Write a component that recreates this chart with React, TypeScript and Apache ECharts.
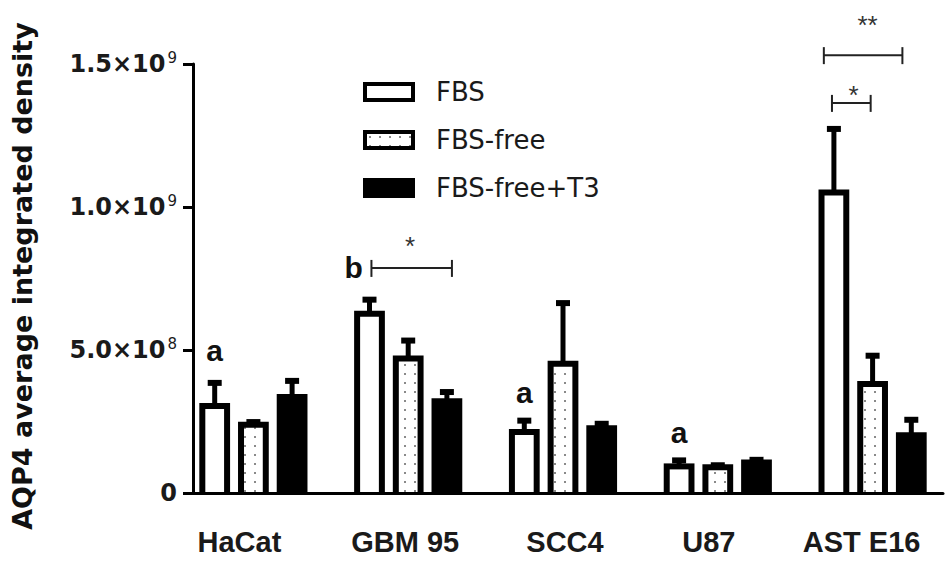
import React, { useEffect, useRef } from "react";
import * as echarts from "echarts";

const categories = ["HaCat", "GBM 95", "SCC4", "U87", "AST E16"];
const seriesNames = ["FBS", "FBS-free", "FBS-free+T3"];

const fbsMean = [3.04e8, 6.27e8, 2.13e8, 0.93e8, 10.51e8];
const fbsErr = [0.81e8, 0.49e8, 0.4e8, 0.21e8, 2.22e8];
const freeMean = [2.39e8, 4.7e8, 4.52e8, 0.9e8, 3.81e8];
const freeErr = [0.09e8, 0.63e8, 2.12e8, 0.07e8, 0.99e8];
const t3Mean = [3.36e8, 3.21e8, 2.26e8, 1.07e8, 2.02e8];
const t3Err = [0.56e8, 0.32e8, 0.16e8, 0.09e8, 0.54e8];

const yTickValues = [0, 5e8, 1e9, 1.5e9];
const yTickMantissa = ["0", "5.0", "1.0", "1.5"];
const yTickExponent = ["", "8", "9", "9"];

// letter annotations: category, slot (bar position in group), value, text
const letterCats = [0, 1, 2, 3];
const letterSlots = [-1, -1.41, -1, -1];
const letterValues = [5.0e8, 7.87e8, 3.53e8, 2.1e8];
const letterTexts = ["a", "b", "a", "a"];

// significance brackets
const bracketCats = [1, 4, 4];
const bracketFrom = [-0.95, -1.05, -1.26];
const bracketTo = [1.13, -0.05, 0.77];
const bracketValues = [7.87e8, 13.64e8, 15.31e8];
const starTexts = ["*", "*", "**"];
const starSlots = [0.05, -0.49, -0.13];
const starValues = [8.64e8, 13.92e8, 16.38e8];

const FONT = "'Liberation Sans', Arial, Helvetica, sans-serif";
const WIDE = "'DejaVu Sans', Verdana, sans-serif";
const SLOT = 0.25; // distance between bars in band fraction
const BARW = 31 / 156; // outer bar width in band fraction
const B = 6; // bar border
// horizontal nudges of the category labels (px, negative = left)
const labelPad = [
  [0, 28, 0, 0],
  [0, 6, 0, 0],
  [0, 0, 0, 4],
  [0, 18, 0, 0],
  [0, 22, 0, 0],
];

function makePattern() {
  const c = document.createElement("canvas");
  c.width = 10;
  c.height = 9;
  const ctx = c.getContext("2d")!;
  ctx.fillStyle = "#ffffff";
  ctx.fillRect(0, 0, 10, 9);
  ctx.fillStyle = "#8a8a8a";
  ctx.fillRect(4, 4, 2, 2);
  return { image: c, repeat: "repeat" } as any;
}

export default function App() {
  const ref = useRef<HTMLDivElement>(null);
  useEffect(() => {
    if (!ref.current) return;
    const chart = echarts.init(ref.current, undefined, { renderer: "svg" });
    const pattern = makePattern();

    const kinds = ["white", "dots", "solid"];
    const means = [fbsMean, freeMean, t3Mean];
    const errs = [fbsErr, freeErr, t3Err];
    const slots = [-1, 0, 1];

    const barSeries = seriesNames.map((name, s) => ({
      type: "custom",
      name,
      xAxisIndex: 1,
      yAxisIndex: 1,
      data: means[s].map((m, i) => [i, m, errs[s][i]]),
      encode: { x: 0, y: 1 },
      renderItem: (params: any, api: any) => {
        const cat = api.value(0);
        const v = api.value(1);
        const e = api.value(2);
        const top = api.coord([cat, v]);
        const base = api.coord([cat, 0]);
        const errTop = api.coord([cat, v + e]);
        const band = api.size([1, 0])[0];
        const cx = top[0] + slots[s] * band * SLOT;
        const w = band * BARW;
        const children: any[] = [];
        children.push({
          type: "rect",
          shape: { x: cx - w / 2, y: top[1] - B / 2, width: w, height: base[1] - top[1] + B / 2 },
          style: { fill: "#000" },
        });
        if (kinds[s] !== "solid") {
          children.push({
            type: "rect",
            shape: { x: cx - w / 2 + B, y: top[1] + B / 2, width: w - 2 * B, height: base[1] - top[1] - B / 2 - 1 },
            style: { fill: kinds[s] === "dots" ? pattern : "#fff" },
          });
        }
        children.push({
          type: "rect",
          shape: { x: cx - 2.5, y: errTop[1], width: 5, height: top[1] - errTop[1] },
          style: { fill: "#000" },
        });
        children.push({
          type: "rect",
          shape: { x: cx - 7, y: errTop[1] - 3, width: 14, height: 6 },
          style: { fill: "#000" },
        });
        return { type: "group", children };
      },
    }));

    const letterSeries = {
      type: "custom",
      name: "letters",
      xAxisIndex: 1,
      yAxisIndex: 1,
      data: letterCats.map((c, i) => [c, letterValues[i]]),
      encode: { x: 0, y: 1 },
      renderItem: (params: any, api: any) => {
        const i = params.dataIndex;
        const p = api.coord([api.value(0), api.value(1)]);
        const band = api.size([1, 0])[0];
        return {
          type: "text",
          x: p[0] + letterSlots[i] * band * SLOT,
          y: p[1],
          style: {
            text: letterTexts[i],
            fontFamily: FONT,
            fontSize: 30,
            fontWeight: "bold",
            fill: "#111",
            align: "center",
            verticalAlign: "middle",
          },
        };
      },
    };

    const bracketSeries = {
      type: "custom",
      name: "brackets",
      xAxisIndex: 1,
      yAxisIndex: 1,
      data: bracketCats.map((c, i) => [c, bracketValues[i], starValues[i]]),
      encode: { x: 0, y: 1 },
      renderItem: (params: any, api: any) => {
        const i = params.dataIndex;
        const cat = api.value(0);
        const p = api.coord([cat, api.value(1)]);
        const sp = api.coord([cat, api.value(2)]);
        const band = api.size([1, 0])[0];
        const x1 = p[0] + bracketFrom[i] * band * SLOT;
        const x2 = p[0] + bracketTo[i] * band * SLOT;
        const ls = { stroke: "#222", lineWidth: 2 };
        return {
          type: "group",
          children: [
            { type: "line", shape: { x1, y1: p[1], x2, y2: p[1] }, style: ls },
            { type: "line", shape: { x1, y1: p[1] - 8, x2: x1, y2: p[1] + 9 }, style: ls },
            { type: "line", shape: { x1: x2, y1: p[1] - 8, x2, y2: p[1] + 9 }, style: ls },
            {
              type: "text",
              x: sp[0] + starSlots[i] * band * SLOT,
              y: sp[1],
              style: {
                text: starTexts[i],
                fontFamily: FONT,
                fontSize: 26,
                fill: "#333",
                align: "center",
                verticalAlign: "middle",
              },
            },
          ],
        };
      },
    };

    const catRich: any = {};
    labelPad.forEach((p, i) => {
      catRich["c" + i] = {
        fontFamily: FONT,
        fontSize: 29,
        fontWeight: "bold",
        color: "#1a1a1a",
        padding: p,
      };
    });

    const option: any = {
      animation: false,
      backgroundColor: "#fff",
      grid: [
        { left: 193, right: 7, top: 64, bottom: 73 },
        { left: 176, width: 780, top: 64, bottom: 73 },
      ],
      xAxis: [
        {
          type: "value",
          gridIndex: 0,
          min: 0,
          max: 1,
          axisLine: { show: true, lineStyle: { color: "#000", width: 3 } },
          axisTick: { show: false },
          axisLabel: { show: false },
          splitLine: { show: false },
        },
        {
          type: "category",
          gridIndex: 1,
          data: categories,
          axisLine: { show: false },
          axisTick: { show: false },
          axisLabel: {
            margin: 34,
            formatter: (val: string) => {
              const i = categories.indexOf(val);
              return `{c${i}|${val}}`;
            },
            rich: catRich,
          },
          splitLine: { show: false },
        },
      ],
      yAxis: [
        {
          type: "value",
          gridIndex: 0,
          min: 0,
          max: 1.5e9,
          interval: 5e8,
          axisLine: { show: true, lineStyle: { color: "#000", width: 3 } },
          axisTick: { show: true, length: 10, lineStyle: { color: "#000", width: 3 } },
          splitLine: { show: false },
          axisLabel: {
            margin: 16,
            formatter: (val: number) => {
              const i = yTickValues.indexOf(val);
              if (i < 0) return "";
              return yTickExponent[i]
                ? `{m|${yTickMantissa[i]}×10}{e|${yTickExponent[i]}}`
                : `{m|${yTickMantissa[i]}}`;
            },
            rich: {
              m: { fontFamily: WIDE, fontSize: 24, fontWeight: "bold", color: "#1a1a1a", lineHeight: 28 },
              e: { fontFamily: WIDE, fontSize: 15, color: "#1a1a1a", verticalAlign: "top", lineHeight: 15, padding: [0, 0, 0, 2] },
            },
          },
        },
        {
          type: "value",
          gridIndex: 1,
          min: 0,
          max: 1.5e9,
          show: false,
          splitLine: { show: false },
        },
      ],
      legend: {
        orient: "vertical",
        left: 358,
        top: 72,
        itemWidth: 48,
        itemHeight: 16,
        itemGap: 18,
        icon: "rect",
        selectedMode: false,
        textStyle: { fontFamily: WIDE, fontSize: 26, color: "#1a1a1a", padding: [0, 0, 0, 18], lineHeight: 30 },
        data: [
          { name: "FBS", itemStyle: { color: "#fff", borderColor: "#000", borderWidth: 4 } },
          { name: "FBS-free", itemStyle: { color: pattern, borderColor: "#000", borderWidth: 4 } },
          { name: "FBS-free+T3", itemStyle: { color: "#000", borderColor: "#000", borderWidth: 4 } },
        ],
      },
      graphic: [
        {
          type: "text",
          x: 22,
          y: 276,
          rotation: Math.PI / 2,
          style: {
            text: "AQP4 average integrated density",
            fontFamily: WIDE,
            fontSize: 27,
            fontWeight: "bold",
            fill: "#111",
            align: "center",
            verticalAlign: "middle",
          },
        },
      ],
      series: [...barSeries, letterSeries, bracketSeries],
    };
    chart.setOption(option);
    return () => chart.dispose();
  }, []);
  return <div ref={ref} style={{ position: "fixed", left: 0, top: 0, width: 950, height: 566 }} />;
}
